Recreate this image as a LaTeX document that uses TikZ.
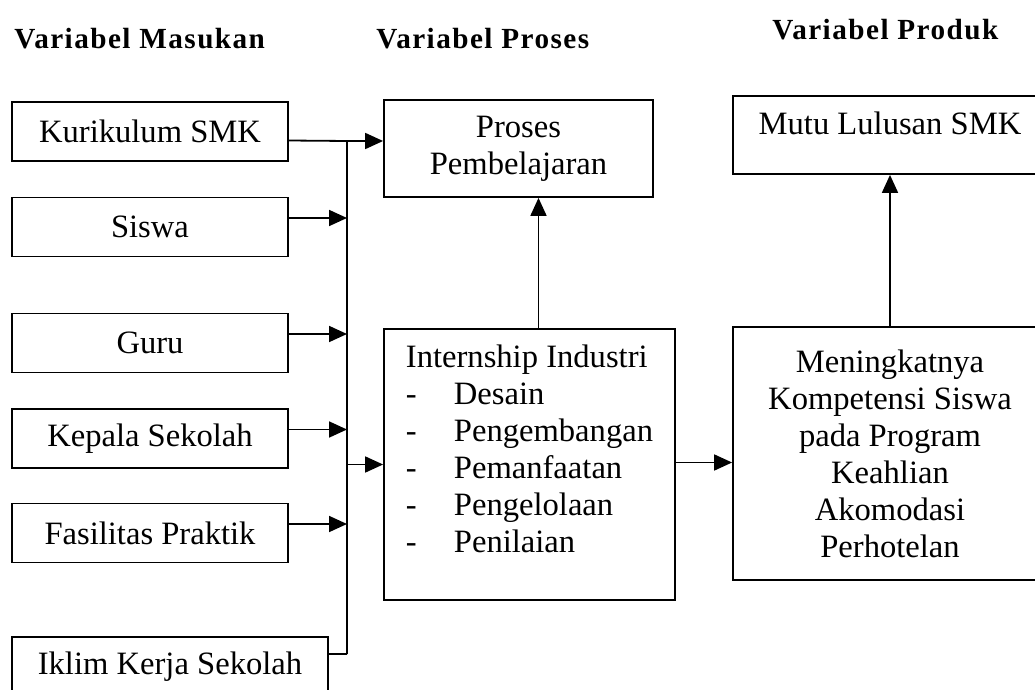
\documentclass[tikz,border=0pt]{standalone}
\usepackage{fontspec}
\setmainfont{Liberation Serif}
\usetikzlibrary{arrows.meta}
\begin{document}
\begin{tikzpicture}[x=0.5pt,y=-0.5pt,
    box/.style={draw, line width=0.9pt, inner sep=0pt, align=center, font=\fontsize{16.3}{18.5}\selectfont},
    inbox/.style={box, minimum width=138pt, minimum height=29.5pt},
    line/.style={line width=0.9pt},
    arr/.style={line, -{Triangle[length=9pt,width=8pt]}},
    head/.style={anchor=base west, inner sep=0pt, font=\fontsize{14.6}{16}\selectfont\bfseries\addfontfeature{LetterSpace=5}}]
\useasboundingbox (0,0) rectangle (1035,690);
\clip (0,0) rectangle (1035,690);
\node[head] (hmasukan) at (14,49) {Variabel Masukan};
\node[head] (hproses) at (376,49) {Variabel Proses};
\node[head] (hproduk) at (772,40) {Variabel Produk};
\node[inbox] (kur) at (150,131.5) {Kurikulum SMK};
\node[inbox] (siswa) at (150,227) {Siswa};
\node[inbox] (guru) at (150,343) {Guru};
\node[inbox] (kepala) at (150,438.5) {Kepala Sekolah};
\node[inbox] (fasil) at (150,533) {Fasilitas Praktik};
\node[box, minimum width=158pt, minimum height=29.5pt] (iklim) at (170,666.5) {Iklim Kerja Sekolah};
\node[box, minimum width=134.5pt, minimum height=48.5pt] (pros) at (518.5,148.5) {Proses\\Pembelajaran};
\node[box, minimum width=145.5pt, minimum height=135.5pt] (intern) at (529.5,464.5) {%
    \begin{tabular}{@{}l@{}}
    Internship Industri\\
    \makebox[24pt][l]{-}Desain\\
    \makebox[24pt][l]{-}Pengembangan\\
    \makebox[24pt][l]{-}Pemanfaatan\\
    \makebox[24pt][l]{-}Pengelolaan\\
    \makebox[24pt][l]{-}Penilaian\\[12pt]
    \end{tabular}};
\node[box, minimum width=157pt, minimum height=126.5pt] (mening) at (890,453.5) {Meningkatnya\\Kompetensi Siswa\\pada Program\\Keahlian\\Akomodasi\\Perhotelan};
\node[box, minimum width=157pt, minimum height=39pt, text depth=11.5pt] (mutu) at (890,135) {Mutu Lulusan SMK};
\coordinate (bustop) at (347,141);
\coordinate (busbot) at (347,654);
\draw[line] ([yshift=-4.5pt]kur.east) -- (bustop) -- (busbot);
\draw[line] (busbot -| iklim.east) -- (busbot);
\draw[arr] (bustop) -- (bustop -| pros.west);
\foreach \n in {siswa,guru,kepala,fasil}
    \draw[arr] ([yshift=4.5pt]\n.east) -- ([yshift=4.5pt]\n.east -| bustop);
\draw[arr] (intern.west -| bustop) -- (intern.west);
\draw[arr] ([xshift=4.5pt]intern.north) -- ([xshift=4.5pt]intern.north |- pros.south);
\draw[arr] ([yshift=1pt]intern.east) -- ([yshift=1pt]intern.east -| mening.west);
\draw[arr] (mening.north) -- (mutu.south);
\end{tikzpicture}
\end{document}
